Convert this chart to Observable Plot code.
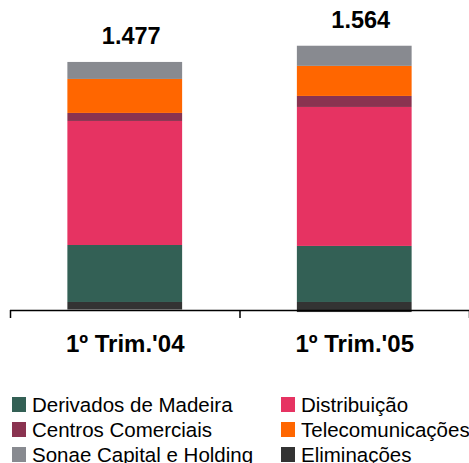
<!DOCTYPE html>
<html>
<head>
<meta charset="utf-8">
<script src="https://cdn.jsdelivr.net/npm/d3@7"></script>
<script src="https://cdn.jsdelivr.net/npm/@observablehq/plot@0.6"></script>
<style>
  html, body { margin: 0; padding: 0; background: #fff; }
  body { width: 469px; height: 463px; overflow: hidden; font-family: "Liberation Sans", Arial, sans-serif; }
  #legend { display: grid; grid-template-columns: 269px auto; padding-left: 12px; margin-top: 2px; }
  .item { display: flex; align-items: center; height: 25px; font-size: 20.5px; color: #000; white-space: nowrap; }
  .sw { width: 14px; height: 15px; margin-right: 6px; flex: none; }
</style>
</head>
<body>
<div id="chart"></div>
<div id="legend"></div>
<script>
const categories = ["1º Trim.'04", "1º Trim.'05"];
const series = ["Derivados de Madeira", "Distribuição", "Centros Comerciais", "Telecomunicações", "Sonae Capital e Holding", "Eliminações"];
const colors = ["#336055", "#E63362", "#8A3350", "#FF6600", "#888A90", "#333333"];
const derivadosMadeira = [362, 356];
const distribuicao = [788, 883];
const centrosComerciais = [51, 70];
const telecomunicacoes = [216, 191];
const sonaeCapital = [108, 128];
const eliminacoes = [-48, -64];
const totals = [1477, 1564];
const totalLabels = ["1.477", "1.564"];
const legendOrder = [0, 1, 2, 3, 4, 5];

const seriesValues = [derivadosMadeira, distribuicao, centrosComerciais, telecomunicacoes, sonaeCapital, eliminacoes];

// stack: positives upward from 0, negatives downward from 0
const rects = [];
const tops = [];
categories.forEach((c, i) => {
  let pos = 0, neg = 0;
  seriesValues.forEach((vals, s) => {
    const v = vals[i];
    if (v >= 0) { rects.push({i, series: series[s], y1: pos, y2: pos + v}); pos += v; }
    else { rects.push({i, series: series[s], y1: neg, y2: neg + v}); neg += v; }
  });
  tops.push({i, top: pos, label: totalLabels[i], cat: c, bottom: neg});
});

const yMin = -51, yMax = 1855;

const plot = Plot.plot({
  width: 469,
  height: 390,
  marginLeft: 10,
  marginRight: 0,
  marginTop: 10,
  marginBottom: 80,
  x: {type: "linear", domain: [0, categories.length], axis: null},
  y: {domain: [yMin, yMax], axis: null},
  color: {domain: series, range: colors},
  style: {fontFamily: "Liberation Sans, Arial, sans-serif", background: "white"},
  marks: [
    Plot.rectY(rects, {x1: d => d.i + 0.25, x2: d => d.i + 0.75, y1: "y1", y2: "y2", fill: "series"}),
    Plot.ruleY([yMin], {stroke: "#000", strokeWidth: 1.5}),
    Plot.axisX({ticks: d3.range(categories.length + 1), tickSize: 8, tickFormat: () => "", stroke: "#000", strokeWidth: 1.5, anchor: "bottom"}),
    Plot.text(tops, {x: d => d.i + 0.5, y: "top", text: "label", dy: -26, dx: 6, fontSize: 23.5, fontWeight: "bold", fill: "#000"}),
    Plot.text(tops, {x: d => d.i + 0.5, y: () => yMin, text: "cat", dy: 34, fontSize: 24, fontWeight: "bold", fill: "#000"})
  ]
});
document.getElementById("chart").appendChild(plot);

const legend = document.getElementById("legend");
legendOrder.forEach(s => {
  const item = document.createElement("div");
  item.className = "item";
  const sw = document.createElement("span");
  sw.className = "sw";
  sw.style.background = colors[s];
  item.appendChild(sw);
  item.appendChild(document.createTextNode(series[s]));
  legend.appendChild(item);
});
</script>
</body>
</html>
